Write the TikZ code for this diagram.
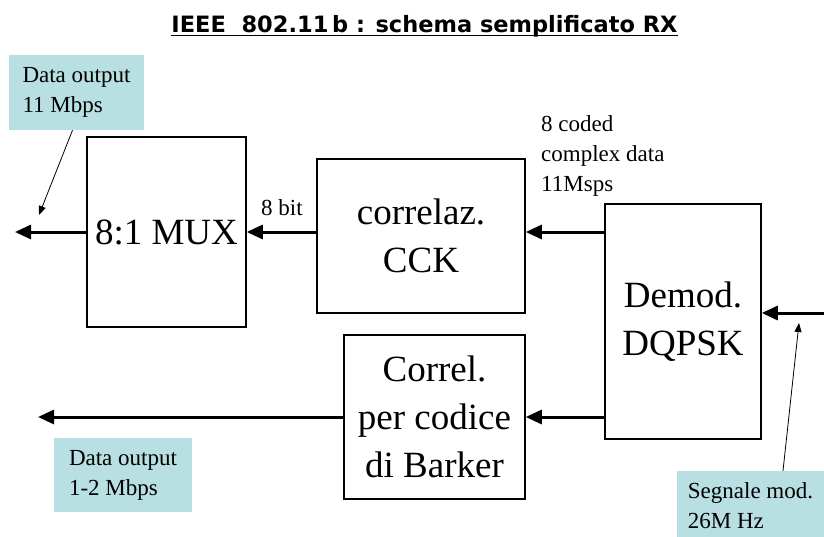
\documentclass[tikz,border=0pt]{standalone}
\usepackage{fontspec}
\setmainfont{Liberation Serif}
\newfontfamily\titlefont{DejaVu Sans}
\usetikzlibrary{arrows.meta}
\definecolor{labelTeal}{RGB}{184,224,227}

\begin{document}
\begin{tikzpicture}[x=1pt, y=-1pt,
        blockStyle/.style={draw, line width=1.5pt, inner sep=0pt, align=center, font=\fontsize{37}{48}\selectfont},
        labelStyle/.style={fill=labelTeal, inner sep=0pt, align=left, font=\fontsize{23}{30}\selectfont},
        textStyle/.style={inner sep=0pt, align=left, font=\fontsize{23}{30}\selectfont},
        sigArrow/.style={line width=3pt, -{Triangle[length=16pt, width=14pt]}},
        noteArrow/.style={line width=0.8pt, -{Triangle[length=9pt, width=7pt]}}]
    \useasboundingbox (0,0) rectangle (824,536);

    \node[inner sep=0pt, anchor=base, font=\titlefont\bfseries\fontsize{22.5}{26}\selectfont](title) at (424.5, 32.5) {IEEE\ \ 802.11\,b : schema semplificato RX};
    \draw[line width=1.5pt] ([yshift=-3pt]title.base west) -- ([yshift=-3pt]title.base east);

    \node[blockStyle, minimum width=159pt, minimum height=190pt](mux) at (166.5, 232) {8:1 MUX};
    \node[blockStyle, minimum width=208pt, minimum height=154pt](cck) at (421, 236) {correlaz.\\CCK};
    \node[blockStyle, minimum width=156pt, minimum height=235pt](demod) at (683, 321.5) {Demod.\\DQPSK};
    \node[blockStyle, minimum width=181pt, minimum height=164pt](barker) at (434.5, 417) {Correl.\\per codice\\di Barker};

    \node[labelStyle, minimum width=135pt, minimum height=75pt](out11) at (76.5, 92.5) {Data output\\11 Mbps};
    \node[labelStyle, minimum width=138pt, minimum height=74pt](out12) at (123, 475) {Data output\\1-2 Mbps};
    \node[labelStyle, minimum width=147pt, minimum height=70pt](segn) at (750.5, 506) {Segnale mod.\\26M Hz};

    \node[textStyle, anchor=base](bits) at (282, 215) {8 bit};
    \node[textStyle, anchor=north west](coded) at (541, 115) {8 coded\\complex data\\11Msps};

    \coordinate (in) at (824, 313);
    \coordinate (hiOut) at (15, 232);
    \coordinate (loOut) at (38, 417);
    \coordinate (tip11) at (39, 215);
    \coordinate (tipIn) at (799, 323);

    \draw[sigArrow] (in) -- (in -| demod.east);
    \draw[sigArrow] (demod.west |- mux) -- (cck.east |- mux);
    \draw[sigArrow] (cck.west |- mux) -- (mux.east);
    \draw[sigArrow] (mux.west) -- (hiOut);
    \draw[sigArrow] (demod.west |- loOut) -- (barker.east |- loOut);
    \draw[sigArrow] (barker.west |- loOut) -- (loOut);

    \draw[noteArrow] ([xshift=-4pt]out11.south) -- (tip11);
    \draw[noteArrow] ([xshift=32.5pt]segn.north) -- (tipIn);
\end{tikzpicture}
\end{document}
